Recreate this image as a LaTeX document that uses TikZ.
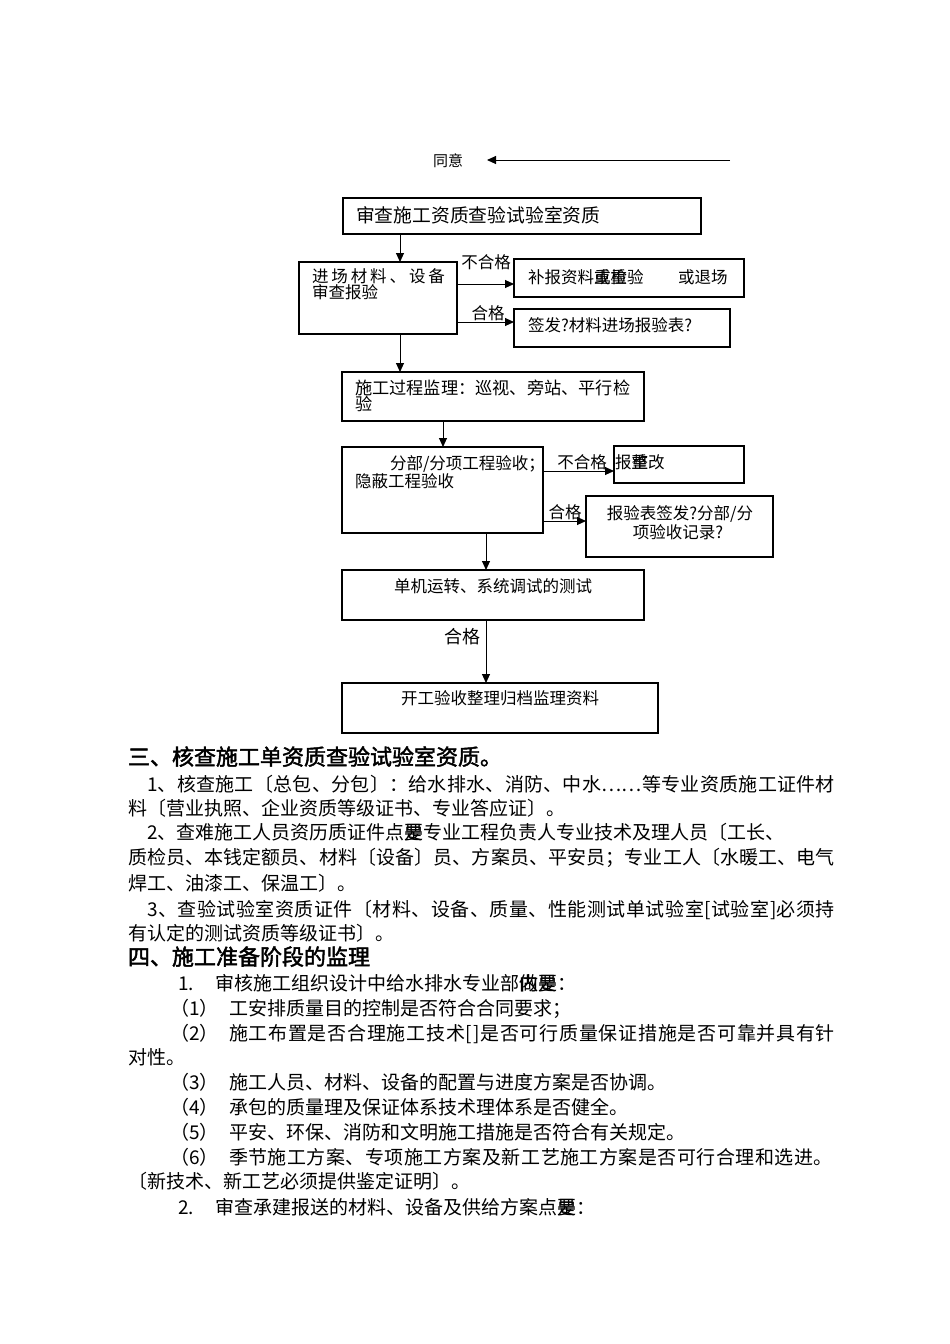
\documentclass[tikz,border=0pt]{standalone}
\usepackage{fontspec}
\setmainfont{Noto Sans CJK SC}
\newfontfamily\cjkb{Noto Sans CJK SC}[FakeBold=2]
\usetikzlibrary{arrows.meta}
\newcommand\ov[2]{\rlap{#2}#1}
\def\spread#1{\spreadi#1\relax}
\def\spreadi#1{\ifx\relax#1\unskip\else#1\hskip 0pt plus 1pt\expandafter\spreadi\fi}
\tikzset{
  txt/.style={anchor=base west, inner sep=0pt, outer sep=0pt},
  ctxt/.style={anchor=base, inner sep=0pt, outer sep=0pt},
  body/.style={txt, font=\fontsize{19}{19}\selectfont},
  head/.style={txt, font=\cjkb\fontsize{22}{22}\selectfont},
  bt/.style={font=\fontsize{16.5}{16.5}\selectfont},
  box/.style={draw, line width=1.2pt, inner sep=0pt, outer sep=0pt, anchor=north west},
  arr/.style={line width=1pt, -{Triangle[length=9pt,width=8pt]}},
}
\begin{document}
\begin{tikzpicture}[x=1pt,y=-1pt]
\fill[white] (0,0) rectangle (950,1344);
\useasboundingbox (0,0) rectangle (950,1344);

% top arrow
\node[ctxt, font=\fontsize{15}{15}\selectfont] (ty) at (448,166) {同意};
\coordinate (tyr) at (730,160);
\coordinate (tyl) at (487,160);
\draw[arr] (tyr) -- (tyl);

% boxes
\node[box, minimum width=358pt, minimum height=36pt] (b1) at (343,198) {};
\node[box, minimum width=158pt, minimum height=72pt] (b2) at (299,262) {};
\node[box, minimum width=230pt, minimum height=38pt] (b3) at (514,259) {};
\node[box, minimum width=216pt, minimum height=38pt] (b4) at (514,309) {};
\node[box, minimum width=302pt, minimum height=49pt] (b5) at (342,372) {};
\node[box, minimum width=201pt, minimum height=86pt] (b6) at (342,447) {};
\node[box, minimum width=130pt, minimum height=37pt] (b7) at (614,446) {};
\node[box, minimum width=187pt, minimum height=61pt] (b8) at (586,496) {};
\node[box, minimum width=302pt, minimum height=50pt] (b9) at (342,570) {};
\node[box, minimum width=316pt, minimum height=50pt] (b10) at (342,683) {};

% box texts
\node[txt, font=\fontsize{18.8}{18.8}\selectfont] (t1) at (356,222) {审查施工资质查验试验室资质};
\node[txt, bt] (t2a) at (312,282) {\hbox to 133pt{\spread{进场材料、设备}}};
\node[txt, bt] (t2b) at (312,298) {审查报验};
\node[txt, bt] (t3a) at (528,283) {补报资料\ov{或}{重}\ov{检}{重}验};
\node[txt, bt] (t3b) at (678,283) {或退场};
\node[txt, bt] (t4) at (528,331) {签发?材料进场报验表?};
\node[txt, font=\fontsize{17.2}{17.2}\selectfont] (t5a) at (355,394) {施工过程监理：巡视、旁站、平行检};
\node[txt, font=\fontsize{17.2}{17.2}\selectfont] (t5b) at (355,410) {验};
\node[txt, bt] (t6a) at (390,469) {分部/分项工程验收；};
\node[txt, bt] (t6b) at (355,487) {隐蔽工程验收};
\node[txt, bt] (t7) at (615,468) {报\ov{整}{重}改};
\node[ctxt, bt] (t8a) at (680,519) {报验表签发?分部/分};
\node[ctxt, bt] (t8b) at (678,538) {项验收记录?};
\node[ctxt, bt] (t9) at (493,592) {单机运转、系统调试的测试};
\node[ctxt, bt] (t10) at (500,704) {开工验收整理归档监理资料};

% connector labels
\node[ctxt, bt] (l1) at (486,268) {不合格};
\node[ctxt, bt] (l2) at (488,319) {合格};
\node[ctxt, bt] (l3) at (582,468) {不合格};
\node[ctxt, bt] (l4) at (565,518) {合格};
\node[ctxt, font=\fontsize{18}{18}\selectfont] (l5) at (462,643) {合格};

% connectors
\coordinate (xa) at (400,0);
\coordinate (xb) at (443,0);
\coordinate (xc) at (486,0);
\coordinate (ya) at (0,284);
\coordinate (yb) at (0,322);
\coordinate (yc) at (0,471);
\coordinate (yd) at (0,521);
\draw[arr] (b1.south -| xa) -- (b2.north -| xa);
\draw[arr] (b2.south -| xa) -- (b5.north -| xa);
\draw[arr] (b5.south -| xb) -- (b6.north -| xb);
\draw[arr] (b6.south -| xc) -- (b9.north -| xc);
\draw[arr] (b9.south -| xc) -- (b10.north -| xc);
\draw[arr] (b2.east |- ya) -- (b3.west |- ya);
\draw[arr] (b2.east |- yb) -- (b4.west |- yb);
\draw[arr] (b6.east |- yc) -- (b7.west |- yc);
\draw[arr] (b6.east |- yd) -- (b8.west |- yd);

% body text
\node[head] (h1) at (128,765) {三、核查施工单资质查验试验室资质。};
\node[body] (p1) at (147,791) {\hbox to 688pt{\spread{1、核查施工〔总包、分包〕：给水排水、消防、中水……等专业资质施工证件材}}};
\node[body] (p2) at (128,815) {料〔营业执照、企业资质等级证书、专业答应证〕。};
\node[body] (p3) at (147,839) {2、查难施工人员资历质证件点\ov{是}{要}专业工程负责人专业技术及理人员〔工长、};
\node[body] (p4) at (128,864) {\hbox to 707pt{\spread{质检员、本钱定额员、材料〔设备〕员、方案员、平安员；专业工人〔水暖工、电气}}};
\node[body] (p5) at (128,890) {焊工、油漆工、保温工〕。};
\node[body] (p6) at (147,916) {\hbox to 688pt{\spread{3、查验试验室资质证件〔材料、设备、质量、性能测试单试验室[试验室]必须持}}};
\node[body] (p7) at (128,940) {有认定的测试资质等级证书〕。};
\node[head] (h2) at (128,965) {四、施工准备阶段的监理};
\node[body] (n1) at (178,990) {1.};
\node[body] (n1t) at (215,990) {审核施工组织设计中给水排水专业部\ov{做}{内}\ov{是}{要}：};
\node[body] (q1) at (170,1015) {（1）};
\node[body] (q1t) at (229,1015) {工安排质量目的控制是否符合合同要求；};
\node[body] (q2) at (170,1040) {（2）};
\node[body] (q2t) at (229,1040) {\hbox to 606pt{\spread{施工布置是否合理施工技术[]是否可行质量保证措施是否可靠并具有针}}};
\node[body] (q2c) at (128,1064) {对性。};
\node[body] (q3) at (170,1089) {（3）};
\node[body] (q3t) at (229,1089) {施工人员、材料、设备的配置与进度方案是否协调。};
\node[body] (q4) at (170,1114) {（4）};
\node[body] (q4t) at (229,1114) {承包的质量理及保证体系技术理体系是否健全。};
\node[body] (q5) at (170,1139) {（5）};
\node[body] (q5t) at (229,1139) {平安、环保、消防和文明施工措施是否符合有关规定。};
\node[body] (q6) at (170,1164) {（6）};
\node[body] (q6t) at (229,1164) {\hbox to 604pt{\spread{季节施工方案、专项施工方案及新工艺施工方案是否可行合理和选进。}}};
\node[body] (q6c) at (128,1188) {〔新技术、新工艺必须提供鉴定证明〕。};
\node[body] (n2) at (178,1214) {2.};
\node[body] (n2t) at (215,1214) {审查承建报送的材料、设备及供给方案点\ov{是}{要}：};
\end{tikzpicture}
\end{document}
